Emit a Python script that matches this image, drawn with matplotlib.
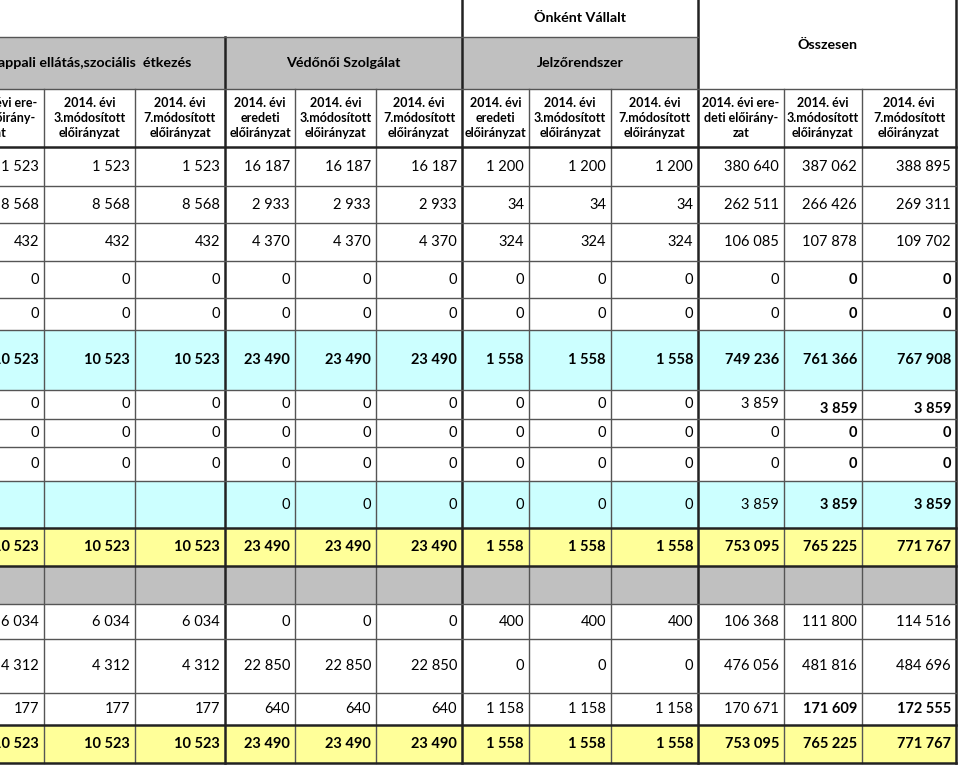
import matplotlib.pyplot as plt

plt.rcParams['font.family'] = ['Lato', 'DejaVu Sans']

# table content
group_names = ["Nappali ellátás,szociális  étkezés", "Védőnői Szolgálat", "Jelzőrendszer"]
top_label = "Önként Vállalt"
total_label = "Összesen"
col_labels = ["2014. évi ere-\ndeti előirány-\nzat",
              "2014. évi\n3.módosított\nelőirányzat",
              "2014. évi\n7.módosított\nelőirányzat",
              "2014. évi\neredeti\nelőirányzat",
              "2014. évi\n3.módosított\nelőirányzat",
              "2014. évi\n7.módosított\nelőirányzat",
              "2014. évi\neredeti\nelőirányzat",
              "2014. évi\n3.módosított\nelőirányzat",
              "2014. évi\n7.módosított\nelőirányzat",
              "2014. évi ere-\ndeti előirány-\nzat",
              "2014. évi\n3.módosított\nelőirányzat",
              "2014. évi\n7.módosított\nelőirányzat"]

Z = [0] * 12
rows = [
    [1523, 1523, 1523, 16187, 16187, 16187, 1200, 1200, 1200, 380640, 387062, 388895],
    [8568, 8568, 8568, 2933, 2933, 2933, 34, 34, 34, 262511, 266426, 269311],
    [432, 432, 432, 4370, 4370, 4370, 324, 324, 324, 106085, 107878, 109702],
    Z,
    Z,
    [10523, 10523, 10523, 23490, 23490, 23490, 1558, 1558, 1558, 749236, 761366, 767908],
    [0, 0, 0, 0, 0, 0, 0, 0, 0, 3859, 3859, 3859],
    Z,
    Z,
    [None, None, None, 0, 0, 0, 0, 0, 0, 3859, 3859, 3859],
    [10523, 10523, 10523, 23490, 23490, 23490, 1558, 1558, 1558, 753095, 765225, 771767],
    [None] * 12,
    [6034, 6034, 6034, 0, 0, 0, 400, 400, 400, 106368, 111800, 114516],
    [4312, 4312, 4312, 22850, 22850, 22850, 0, 0, 0, 476056, 481816, 484696],
    [177, 177, 177, 640, 640, 640, 1158, 1158, 1158, 170671, 171609, 172555],
    [10523, 10523, 10523, 23490, 23490, 23490, 1558, 1558, 1558, 753095, 765225, 771767],
]
row_kind = ['n', 'n', 'n', 'n', 'n', 'c', 'n', 'n', 'n', 'c', 'y', 'g', 'n', 'n', 'n', 'y']
bold_rows = [5, 10, 15]
bold_total_rows = [3, 4, 6, 7, 8, 9, 14]

# layout (pixels)
xs = [-47, 44, 135, 225, 295, 376, 462, 529, 611, 698, 784, 862, 956]
ys = [147, 186, 223, 261, 298, 330, 390, 419, 447, 481, 528, 566, 604, 639, 693, 725, 763]
fills = {'n': 'white', 'c': '#CCFFFF', 'y': '#FFFF99', 'g': '#C0C0C0'}

fig = plt.figure(figsize=(9.6, 7.65), dpi=100)
ax = fig.add_axes([0, 0, 1, 1])
ax.set_xlim(0, 960)
ax.set_ylim(765, 0)
ax.axis('off')


def fmt(v):
    return f"{v:,}".replace(",", " ")


# header fills
ax.add_patch(plt.Rectangle((xs[0], 37), xs[9] - xs[0], 52, color='#C0C0C0', lw=0))
for i, name in enumerate(group_names):
    ax.text((xs[3 * i] + xs[3 * i + 3]) / 2, 63, name, ha='center', va='center',
            fontsize=10.3, fontweight='bold', clip_on=True)
ax.text((xs[6] + xs[9]) / 2, 18, top_label, ha='center', va='center',
        fontsize=10.3, fontweight='bold')
ax.text((xs[9] + xs[12]) / 2, 45, total_label, ha='center', va='center',
        fontsize=10.3, fontweight='bold')
for j, lab in enumerate(col_labels):
    ax.text((xs[j] + xs[j + 1]) / 2, 118, lab, ha='center', va='center',
            fontsize=9, fontweight='bold', linespacing=1.3, clip_on=True)

# body
for r, vals in enumerate(rows):
    y0, y1 = ys[r], ys[r + 1]
    ax.add_patch(plt.Rectangle((xs[0], y0), xs[12] - xs[0], y1 - y0,
                               color=fills[row_kind[r]], lw=0))
    for j, v in enumerate(vals):
        if v is None:
            continue
        bold = r in bold_rows or (j >= 10 and r in bold_total_rows)
        yc = (y0 + y1) / 2
        if r == 6:
            yc += 4 if j >= 10 else -1
        ax.text(xs[j + 1] - 5, yc, fmt(v), ha='right', va='center', fontsize=10.5,
                fontweight='bold' if bold else 'normal', clip_on=True)

# grid lines
thin = dict(color='#555555', lw=1)
thick = dict(color='#222222', lw=1.8)
for j, x in enumerate(xs[1:], start=1):
    if x in (462, 698, 956):
        ax.plot([x, x], [0, 763], **thick)
    elif x == 225:
        ax.plot([x, x], [37, 763], **thick)
    else:
        ax.plot([x, x], [89, 763], **thin)
ax.plot([0, 698], [37, 37], **thin)
ax.plot([0, 956], [89, 89], **thin)
for y in ys:
    if y in (147, 528, 566, 725, 763):
        ax.plot([0, 956], [y, y], **thick)
    else:
        ax.plot([0, 956], [y, y], **thin)

fig.savefig('out.png', dpi=100)
